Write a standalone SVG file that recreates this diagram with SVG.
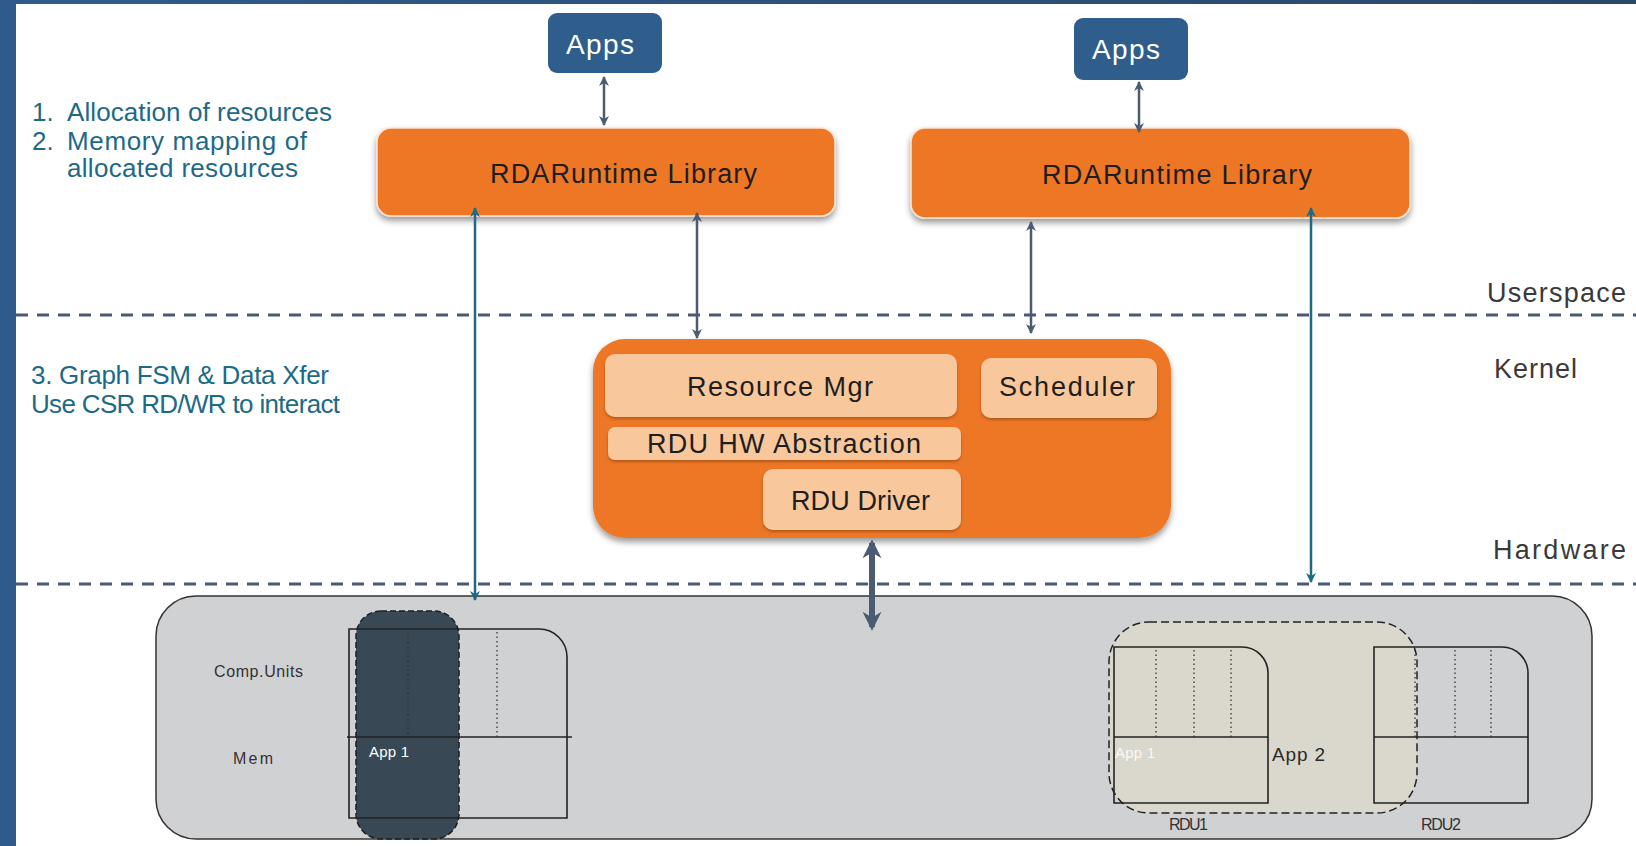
<svg xmlns="http://www.w3.org/2000/svg" width="1636" height="846" viewBox="0 0 1636 846">
  <defs>
    <linearGradient id="topBar" x1="0" y1="0" x2="1" y2="0">
      <stop offset="0" stop-color="#2f5b8c"/>
      <stop offset="1" stop-color="#2b486b"/>
    </linearGradient>
    <filter id="shadow" x="-10%" y="-20%" width="120%" height="150%">
      <feDropShadow dx="0" dy="4" stdDeviation="3" flood-color="#000" flood-opacity="0.4"/>
    </filter>
    <filter id="shadowSm" x="-10%" y="-20%" width="120%" height="150%">
      <feDropShadow dx="0" dy="2" stdDeviation="1.5" flood-color="#6b3000" flood-opacity="0.45"/>
    </filter>
    <marker id="headDark" viewBox="0 0 10 10" refX="9" refY="5" markerWidth="10" markerHeight="10" markerUnits="userSpaceOnUse" orient="auto-start-reverse">
      <path d="M0,0 L10,5 L0,10 L3,5 Z" fill="#4b5b73"/>
    </marker>
    <marker id="headTeal" viewBox="0 0 10 10" refX="9" refY="5" markerWidth="10" markerHeight="10" markerUnits="userSpaceOnUse" orient="auto-start-reverse">
      <path d="M0,0 L10,5 L0,10 L3,5 Z" fill="#1c6a85"/>
    </marker>
    <marker id="headBig" viewBox="0 0 10 10" refX="8" refY="5" markerWidth="19" markerHeight="19" markerUnits="userSpaceOnUse" orient="auto-start-reverse">
      <path d="M0,0 L10,5 L0,10 L3,5 Z" fill="#4b5b73"/>
    </marker>
  </defs>
  <style>
    text { font-family: "Liberation Sans", Arial, sans-serif; }
    .lib { fill: #ee7726; stroke: #fbe3d2; stroke-width: 1.5; }
    .apps { fill: #2f5d8c; }
    .sub { fill: #f8c89c; }
    .layer { stroke: #4b5a72; stroke-width: 3; stroke-dasharray: 12 9; fill: none; }
    .note { fill: #1d6a86; font-size: 26px; }
    .zone { fill: #3a3a3a; font-size: 27px; }
    .blk { fill: #1e1e1e; font-size: 27px; }
    .dark { stroke: #4b5b73; stroke-width: 2.5; fill: none; }
    .teal { stroke: #1c6a85; stroke-width: 2.5; fill: none; }
    .outline { fill: none; stroke: #222; stroke-width: 1.6; }
    .dots { stroke: #333; stroke-width: 1.3; stroke-dasharray: 1.5 3; fill: none; }
    .small { fill: #333; font-size: 16px; }
  </style>

  <!-- page frame -->
  <rect x="0" y="0" width="1636" height="846" fill="#ffffff"/>
  <rect x="0" y="0" width="1636" height="4" fill="url(#topBar)"/>
  <rect x="0" y="0" width="16" height="846" fill="#2f5b8c"/>

  <!-- layer separators -->
  <line class="layer" x1="16" y1="315" x2="1636" y2="315"/>
  <line class="layer" x1="16" y1="584" x2="1636" y2="584"/>

  <!-- side notes -->
  <g id="notes-user">
    <text class="note" x="32" y="121">1.</text>
    <text class="note" x="67" y="121" textLength="265">Allocation of resources</text>
    <text class="note" x="32" y="150">2.</text>
    <text class="note" x="67" y="150" textLength="240">Memory mapping of</text>
    <text class="note" x="67" y="177" textLength="231">allocated resources</text>
  </g>
  <g id="notes-kernel">
    <text class="note" x="31" y="384" textLength="298">3. Graph FSM &amp; Data Xfer</text>
    <text class="note" x="31" y="413" textLength="309">Use CSR RD/WR to interact</text>
  </g>

  <!-- layer names -->
  <g id="layer-labels">
    <text class="zone" x="1487" y="302" textLength="139">Userspace</text>
    <text class="zone" x="1494" y="378" textLength="83">Kernel</text>
    <text class="zone" x="1493" y="559" textLength="133">Hardware</text>
  </g>

  <!-- hardware -->
  <g id="hardware">
    <rect x="156" y="596" width="1436" height="243" rx="40" fill="#d0d1d3" stroke="#333" stroke-width="1.5"/>
    <text class="small" x="214" y="677" textLength="89">Comp.Units</text>
    <text class="small" x="233" y="764" font-size="17" textLength="40">Mem</text>
  </g>

  <g id="app1-column">
    <rect x="356" y="611" width="103" height="228" rx="25" fill="#384854" stroke="#1e1e1e" stroke-width="1.5" stroke-dasharray="6 3"/>
  </g>

  <g id="rdu-left">
    <path class="outline" d="M349,629 H539 A28,28 0 0 1 567,657 V818 H349 Z"/>
    <line class="outline" x1="347" y1="737" x2="572" y2="737"/>
    <line class="dots" x1="408" y1="629" x2="408" y2="737"/>
    <line class="dots" x1="497" y1="632" x2="497" y2="737"/>
    <text x="369" y="757" fill="#ffffff" font-size="15" textLength="40">App 1</text>
  </g>

  <g id="app2-region">
    <rect x="1109" y="622" width="308" height="191" rx="40" fill="#dad8cc" stroke="#222" stroke-width="1.5" stroke-dasharray="8 4"/>
    <text x="1272" y="761" fill="#2a2a2a" font-size="19" textLength="53">App 2</text>
  </g>

  <g id="rdu1">
    <path class="outline" d="M1114,647 H1242 A26,26 0 0 1 1268,673 V803 H1114 Z"/>
    <line class="outline" x1="1114" y1="737" x2="1268" y2="737"/>
    <line class="dots" x1="1156" y1="650" x2="1156" y2="737"/>
    <line class="dots" x1="1194" y1="650" x2="1194" y2="737"/>
    <line class="dots" x1="1231" y1="650" x2="1231" y2="737"/>
    <text x="1115" y="758" fill="#ffffff" fill-opacity="0.85" font-size="15" textLength="40">App 1</text>
    <text class="small" x="1169" y="830" font-size="15" textLength="39">RDU1</text>
  </g>

  <g id="rdu2">
    <path class="outline" d="M1374,647 H1502 A26,26 0 0 1 1528,673 V803 H1374 Z"/>
    <line class="outline" x1="1374" y1="737" x2="1528" y2="737"/>
    <line class="dots" x1="1415" y1="650" x2="1415" y2="737"/>
    <line class="dots" x1="1455" y1="650" x2="1455" y2="737"/>
    <line class="dots" x1="1491" y1="650" x2="1491" y2="737"/>
    <text class="small" x="1421" y="830" font-size="15" textLength="40">RDU2</text>
  </g>

  <!-- userspace -->
  <g id="apps-1">
    <rect class="apps" x="548" y="13" width="114" height="60" rx="9"/>
    <text x="566" y="54" fill="#ffffff" font-size="28" textLength="68">Apps</text>
  </g>
  <g id="apps-2">
    <rect class="apps" x="1074" y="18" width="114" height="62" rx="9"/>
    <text x="1092" y="59" fill="#ffffff" font-size="28" textLength="68">Apps</text>
  </g>

  <g id="runtime-1">
    <rect class="lib" x="377" y="128" width="458" height="88" rx="14" filter="url(#shadow)"/>
    <text class="blk" x="490" y="183" font-size="29" textLength="267">RDARuntime Library</text>
  </g>
  <g id="runtime-2">
    <rect class="lib" x="911" y="128" width="499" height="90" rx="14" filter="url(#shadow)"/>
    <text class="blk" x="1042" y="184" font-size="29" textLength="270">RDARuntime Library</text>
  </g>

  <!-- kernel -->
  <g id="kernel">
    <rect x="593" y="339" width="578" height="199" rx="32" fill="#ee7726" filter="url(#shadow)"/>
  </g>
  <g id="resource-mgr">
    <rect class="sub" x="605" y="354" width="352" height="63" rx="10" filter="url(#shadowSm)"/>
    <text class="blk" x="687" y="396" textLength="186">Resource Mgr</text>
  </g>
  <g id="scheduler">
    <rect class="sub" x="981" y="358" width="176" height="60" rx="10" filter="url(#shadowSm)"/>
    <text class="blk" x="999" y="396" textLength="136">Scheduler</text>
  </g>
  <g id="hw-abstraction">
    <rect class="sub" x="608" y="427" width="353" height="33" rx="7" filter="url(#shadowSm)"/>
    <text class="blk" x="647" y="453" textLength="274">RDU HW Abstraction</text>
  </g>
  <g id="rdu-driver">
    <rect class="sub" x="763" y="469" width="198" height="61" rx="10" filter="url(#shadowSm)"/>
    <text class="blk" x="791" y="510" textLength="139">RDU Driver</text>
  </g>

  <!-- connectors -->
  <g id="connectors">
    <line class="dark" x1="604" y1="77" x2="604" y2="125" marker-start="url(#headDark)" marker-end="url(#headDark)"/>
    <line class="dark" x1="1139" y1="82" x2="1139" y2="132" marker-start="url(#headDark)" marker-end="url(#headDark)"/>
    <line class="dark" x1="697" y1="213" x2="697" y2="338" marker-start="url(#headDark)" marker-end="url(#headDark)"/>
    <line class="dark" x1="1031" y1="222" x2="1031" y2="333" marker-start="url(#headDark)" marker-end="url(#headDark)"/>
    <line class="teal" x1="475" y1="208" x2="475" y2="600" marker-start="url(#headTeal)" marker-end="url(#headTeal)"/>
    <line class="teal" x1="1311" y1="208" x2="1311" y2="582" marker-start="url(#headTeal)" marker-end="url(#headTeal)"/>
    <line stroke="#4b5b73" stroke-width="6" x1="872" y1="543" x2="872" y2="627" marker-start="url(#headBig)" marker-end="url(#headBig)"/>
  </g>
</svg>
